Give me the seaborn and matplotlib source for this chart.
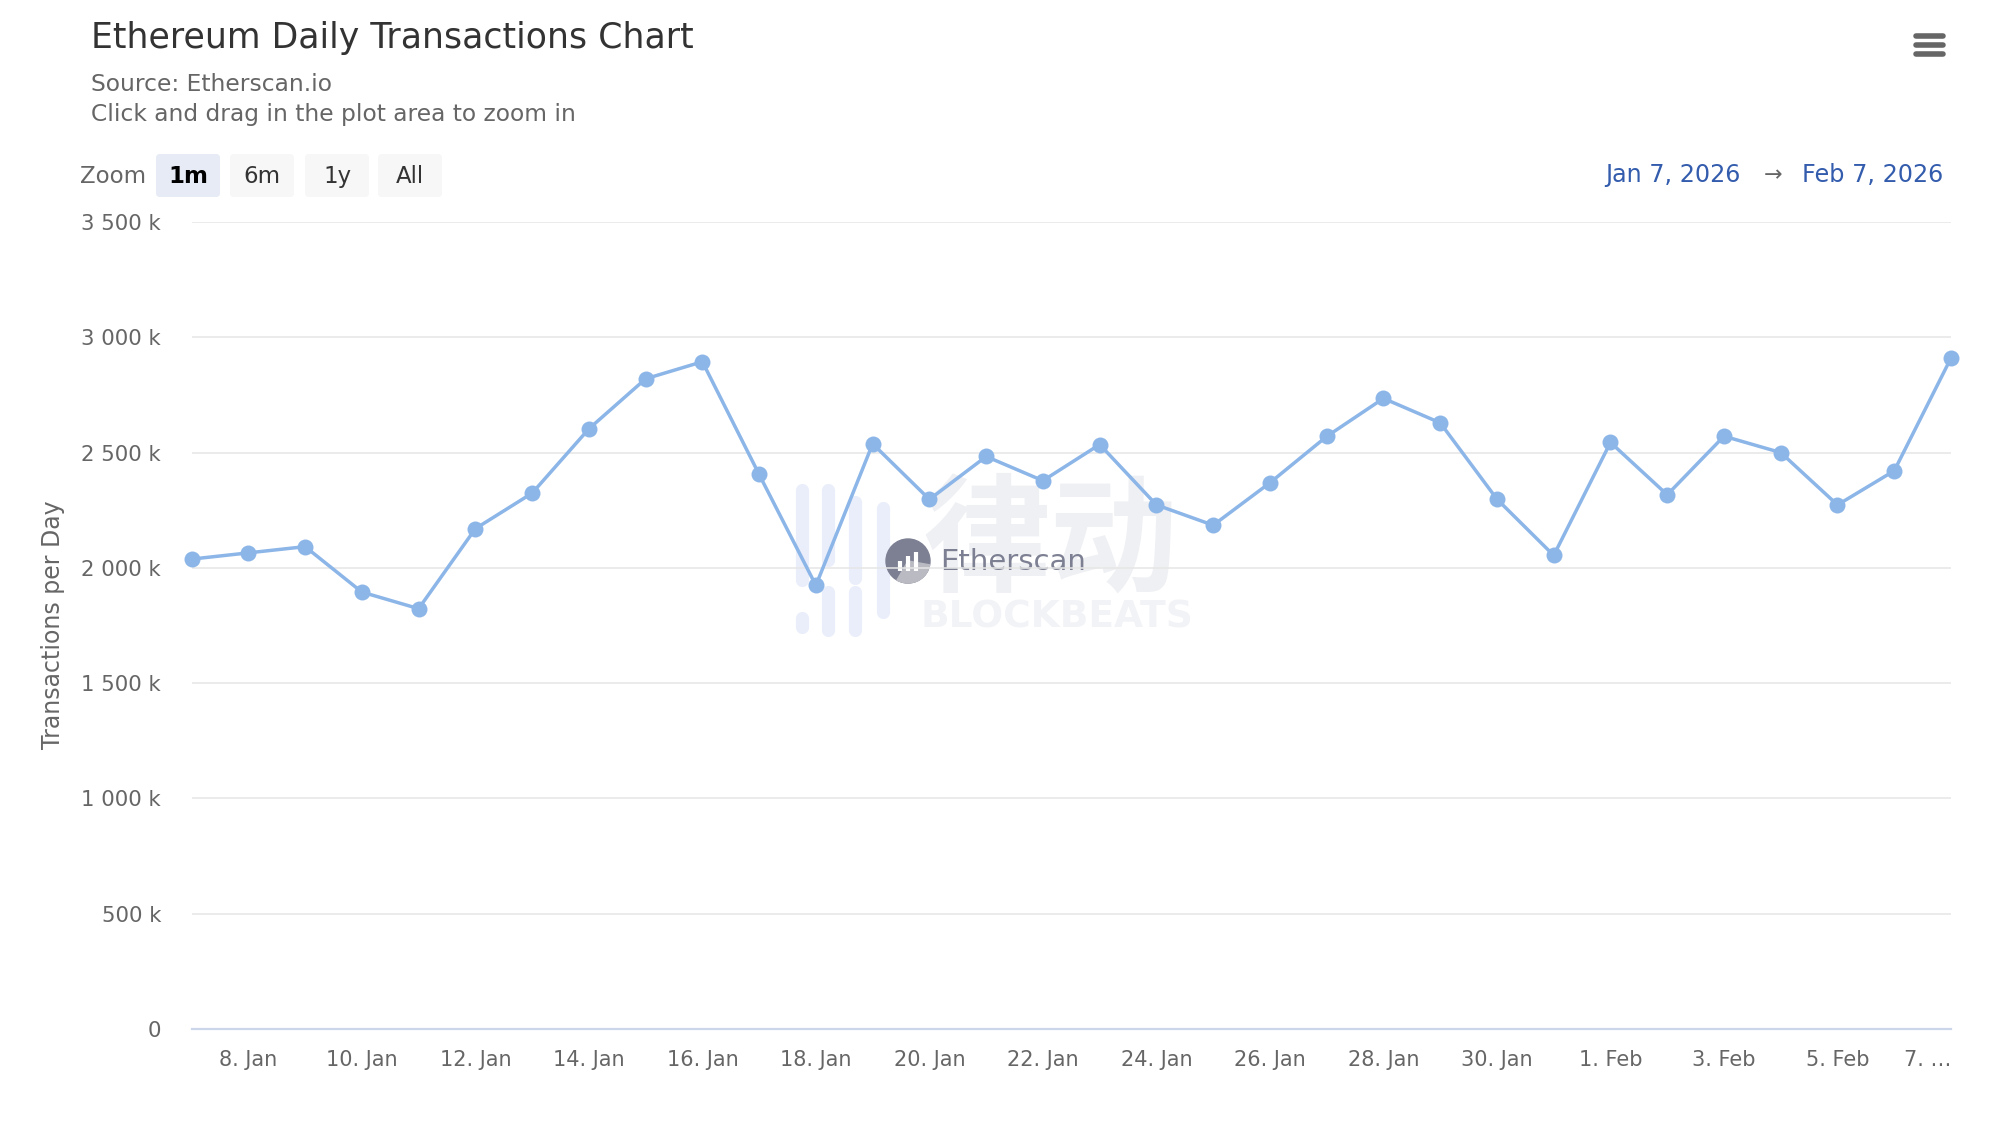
import matplotlib
matplotlib.use("Agg")
import matplotlib.pyplot as plt
import seaborn as sns
import pandas as pd
from matplotlib.patches import FancyBboxPatch, Circle, Wedge

# ---------------- data ----------------
dates = ["2026-01-07", "2026-01-08", "2026-01-09", "2026-01-10", "2026-01-11",
         "2026-01-12", "2026-01-13", "2026-01-14", "2026-01-15", "2026-01-16",
         "2026-01-17", "2026-01-18", "2026-01-19", "2026-01-20", "2026-01-21",
         "2026-01-22", "2026-01-23", "2026-01-24", "2026-01-25", "2026-01-26",
         "2026-01-27", "2026-01-28", "2026-01-29", "2026-01-30", "2026-01-31",
         "2026-02-01", "2026-02-02", "2026-02-03", "2026-02-04", "2026-02-05",
         "2026-02-06", "2026-02-07"]
tx_thousands = [2038, 2065, 2092, 1895, 1823, 2170, 2324, 2603, 2820, 2894,
                2405, 1924, 2538, 2297, 2483, 2378, 2535, 2273, 2185, 2369,
                2570, 2735, 2629, 2298, 2054, 2544, 2317, 2571, 2500, 2273,
                2421, 2910]
x_tick_dates = ["2026-01-08", "2026-01-10", "2026-01-12", "2026-01-14",
                "2026-01-16", "2026-01-18", "2026-01-20", "2026-01-22",
                "2026-01-24", "2026-01-26", "2026-01-28", "2026-01-30",
                "2026-02-01", "2026-02-03", "2026-02-05", "2026-02-07"]
x_tick_labels = ["8. Jan", "10. Jan", "12. Jan", "14. Jan", "16. Jan", "18. Jan",
                 "20. Jan", "22. Jan", "24. Jan", "26. Jan", "28. Jan", "30. Jan",
                 "1. Feb", "3. Feb", "5. Feb", "7. \u2026"]
y_ticks = [0, 500, 1000, 1500, 2000, 2500, 3000, 3500]
y_tick_labels = ["0", "500 k", "1 000 k", "1 500 k", "2 000 k", "2 500 k",
                 "3 000 k", "3 500 k"]
zoom_buttons = ["1m", "6m", "1y", "All"]
title = "Ethereum Daily Transactions Chart"
subtitle_lines = ["Source: Etherscan.io", "Click and drag in the plot area to zoom in"]
y_title = "Transactions per Day"
range_from, range_to = "Jan 7, 2026", "Feb 7, 2026"

df = pd.DataFrame({"date": pd.to_datetime(dates), "tx": tx_thousands})

# ---------------- figure ----------------
sns.set_theme(style="white")
plt.rcParams["font.family"] = ["DejaVu Sans", "Noto Sans CJK SC"]

W, H = 1990, 1122
fig = plt.figure(figsize=(W / 100, H / 100), dpi=100, facecolor="white")

# background overlay axes in pixel coordinates (for decorations)
bg = fig.add_axes([0, 0, 1, 1], zorder=0)
bg.set_xlim(0, W)
bg.set_ylim(H, 0)
bg.axis("off")

# plot area geometry (pixels)
left, right, top, bottom = 191.6, 1951.0, 222.0, 1029.0
ax = fig.add_axes([left / W, 1 - bottom / H, (right - left) / W, (bottom - top) / H], zorder=2)
ax.set_facecolor("none")

# watermark (behind the series)
wm_bars = [(802, 490, 580), (802, 618, 627), (828, 490, 560), (828, 592, 630),
           (855, 502, 578), (855, 592, 630), (883, 508, 612)]
for xb, y0, y1 in wm_bars:
    bg.plot([xb, xb], [y0, y1], color="#e9eefa", lw=9.5, solid_capstyle="round", zorder=1)
bg.text(1050, 544, "律动", fontsize=92, color="#eff0f3", ha="center", va="center",
        family=["Noto Sans CJK SC", "DejaVu Sans"], fontweight="bold", zorder=1)
bg.text(1057, 617, "BLOCKBEATS", fontsize=27, color="#f2f3f6", ha="center", va="center",
        fontweight="bold", zorder=1)
bg.add_patch(Circle((908, 561), 22, color="#7d8093", zorder=2))
bg.add_patch(Wedge((908, 561), 22, 10, 120, color="#b9bac2", zorder=2.5))
for i, h in enumerate([10, 15, 19]):
    bg.plot([900 + i * 8, 900 + i * 8], [571, 571 - h], color="white", lw=3.0,
            solid_capstyle="butt", zorder=3)
bg.text(940, 562, "Etherscan", fontsize=21, color="#7d8093", ha="left", va="center", zorder=2)

# series
sns.lineplot(data=df, x="date", y="tx", ax=ax, color="#8cb5e8", linewidth=2.5,
             marker="o", markersize=11.5, markeredgewidth=0, clip_on=False, zorder=5)

ax.set_xlim(df["date"].iloc[0], df["date"].iloc[-1])
ax.set_ylim(0, 3500)
ax.set_yticks(y_ticks)
ax.set_yticklabels(y_tick_labels)
ax.set_xticks(pd.to_datetime(x_tick_dates))
ax.set_xticklabels(x_tick_labels)
ax.set_xlabel("")
ax.set_ylabel("")

ax.grid(axis="y", color="#e6e6e6", linewidth=1.1)
ax.grid(axis="x", visible=False)
for s in ["top", "right", "left"]:
    ax.spines[s].set_visible(False)
ax.spines["bottom"].set_color("#ccd6eb")
ax.spines["bottom"].set_linewidth(1.6)
ax.tick_params(axis="y", length=0, pad=22, labelsize=15.3, labelcolor="#666666")
ax.tick_params(axis="x", length=11, width=1.0, color="#ccd6eb", direction="out",
               pad=4, labelsize=15, labelcolor="#666666")
for lbl in ax.get_xticklabels():
    lbl.set_fontfamily(["Liberation Sans Narrow", "DejaVu Sans"])
    lbl.set_fontsize(15)
last = ax.get_xticklabels()[-1]
last.set_horizontalalignment("right")

# y-axis title
bg.text(53, 625, y_title, rotation=90, ha="center", va="center", fontsize=17,
        color="#666666", family=["Liberation Sans Narrow", "DejaVu Sans"])

# titles
bg.text(91, 38, title, fontsize=25, color="#333333", ha="left", va="center")
bg.text(91, 84, subtitle_lines[0], fontsize=16.8, color="#666666", ha="left", va="center")
bg.text(91, 114, subtitle_lines[1], fontsize=16.8, color="#666666", ha="left", va="center")

# zoom buttons
bg.text(80, 176, "Zoom", fontsize=16.5, color="#666666", ha="left", va="center")
btn_x = [156, 230, 305, 378]
for bx, lab in zip(btn_x, zoom_buttons):
    sel = lab == "1m"
    bg.add_patch(FancyBboxPatch((bx, 154), 64, 43, boxstyle="round,pad=0,rounding_size=4",
                                facecolor="#e6ebf5" if sel else "#f7f7f7",
                                edgecolor="none", zorder=1))
    bg.text(bx + 32, 176, lab, fontsize=16.5, ha="center", va="center",
            color="#000000" if sel else "#333333",
            fontweight="bold" if sel else "normal", zorder=2)

# date range
bg.text(1943, 175, range_to, fontsize=17.2, color="#335cad", ha="right", va="center")
bg.text(1773, 175, "\u2192", fontsize=16, color="#666666", ha="center", va="center")
bg.text(1741, 175, range_from, fontsize=17.2, color="#335cad", ha="right", va="center")

# hamburger menu
for yy in [35.5, 44.5, 53.5]:
    bg.plot([1916, 1943], [yy, yy], color="#666666", lw=4, solid_capstyle="round")

fig.savefig("out.png", dpi=100, facecolor="white")
